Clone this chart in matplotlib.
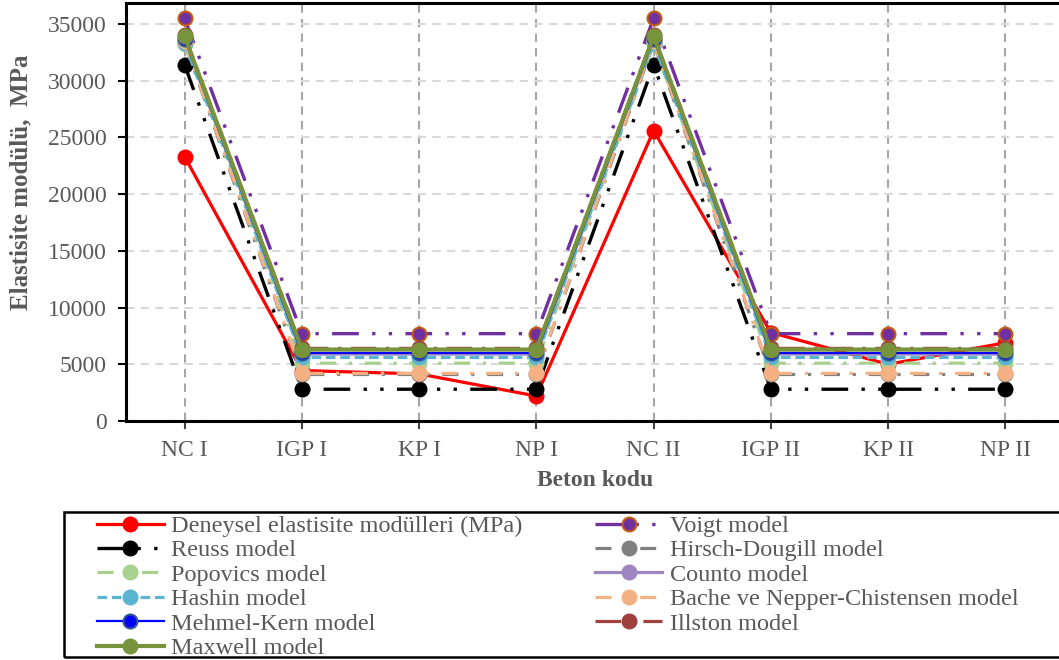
import matplotlib.pyplot as plt
from matplotlib.patches import Rectangle

plt.rcParams['font.family'] = ['Liberation Serif', 'DejaVu Serif']

categories = ['NC I', 'IGP I', 'KP I', 'NP I', 'NC II', 'IGP II', 'KP II', 'NP II']

deneysel = [23300, 4450, 4150, 2200, 25600, 7800, 5000, 6900]
voigt = [35500, 7700, 7700, 7700, 35500, 7700, 7700, 7700]
reuss = [31400, 2800, 2800, 2800, 31400, 2800, 2800, 2800]
hirsch = [33300, 4100, 4100, 4100, 33300, 4100, 4100, 4100]
popovics = [33200, 5100, 5100, 5100, 33200, 5100, 5100, 5100]
counto = [33600, 5900, 5900, 5900, 33600, 5900, 5900, 5900]
hashin = [33300, 5600, 5600, 5600, 33300, 5600, 5600, 5600]
bache = [33500, 4200, 4200, 4200, 33500, 4200, 4200, 4200]
mehmel = [33700, 6000, 6000, 6000, 33700, 6000, 6000, 6000]
illston = [34000, 6400, 6400, 6400, 34000, 6400, 6400, 6400]
maxwell = [33900, 6300, 6300, 6300, 33900, 6300, 6300, 6300]

# label, data, color, marker edge, linewidth, dashes (None = solid)
series = [
    ('Deneysel elastisite modülleri (MPa)', deneysel, '#FF0000', '#FF0000', 2.3, None),
    ('Voigt model', voigt, '#7030A0', '#C55A11', 2.4, (8, 4, 1, 4, 1, 4)),
    ('Reuss model', reuss, '#000000', '#000000', 2.4, (8, 4, 1, 4, 1, 4)),
    ('Hirsch-Dougill model', hirsch, '#808080', '#808080', 2.3, (5, 4, 1, 4)),
    ('Popovics model', popovics, '#A9D18E', '#A9D18E', 2.3, (5, 4, 1, 4)),
    ('Counto model', counto, '#9E86C0', '#9E86C0', 2.3, None),
    ('Hashin model', hashin, '#5BB5D0', '#5BB5D0', 2.3, (3, 1.5)),
    ('Bache ve Nepper-Chistensen model', bache, '#F4B183', '#F4B183', 2.3, (5, 4, 1, 4)),
    ('Mehmel-Kern model', mehmel, '#0000FF', '#2F5597', 1.6, None),
    ('Illston model', illston, '#A0403F', '#A0403F', 2.3, (8, 3, 1, 3)),
    ('Maxwell model', maxwell, '#77933C', '#77933C', 3.0, None),
]

fig = plt.figure(figsize=(10.59, 6.6), dpi=100)
W, H = 1059, 660
ax = fig.add_axes([126 / W, (H - 421) / H, (1064 - 126) / W, (421 - 3) / H])

x = list(range(len(categories)))
handles = {}
for i, (lab, vals, col, edge, lw, dash) in enumerate(series):
    kw = dict(color=col, lw=lw, marker='o', markersize=10, markerfacecolor=col,
              markeredgecolor=edge, markeredgewidth=1.5, label=lab, zorder=3 + i)
    if dash is not None:
        kw['dashes'] = dash
    ln, = ax.plot(x, vals, **kw)
    handles[lab] = ln

ax.set_xlim(-0.5, 7.5)
ax.set_ylim(0, 36850)
ax.set_yticks(range(0, 35001, 5000))
ax.set_xticks(x)
ax.set_xticklabels(categories)

ax.grid(axis='y', color='#D9D9D9', linestyle=(0, (4, 3)), lw=1.5, zorder=0)
ax.grid(axis='x', color='#A6A6A6', linestyle=(0, (4, 3)), lw=1.5, zorder=0)
ax.set_axisbelow(True)

for s in ['left', 'bottom', 'top']:
    ax.spines[s].set_linewidth(2.2)
    ax.spines[s].set_color('black')
ax.spines['right'].set_visible(False)

ax.tick_params(axis='y', direction='out', length=6, width=1.5, labelsize=17,
               labelcolor='#595959', pad=8)
ax.tick_params(axis='x', direction='out', length=6, width=1.5, labelsize=17,
               labelcolor='#595959', color='#404040', pad=8)

ax.set_xlabel('Beton kodu', fontsize=17, fontweight='bold', color='#595959', labelpad=6)
ax.set_ylabel('Elastisite modülü,  MPa', fontsize=18, fontweight='bold', color='#595959')
ax.yaxis.set_label_coords(-0.1, 0.57)

order = ['Deneysel elastisite modülleri (MPa)', 'Reuss model', 'Popovics model',
         'Hashin model', 'Mehmel-Kern model', 'Maxwell model',
         'Voigt model', 'Hirsch-Dougill model', 'Counto model',
         'Bache ve Nepper-Chistensen model', 'Illston model']
leg = fig.legend([handles[k] for k in order], order, loc='upper left',
                 bbox_to_anchor=(80 / W, 1 - 498 / H), ncol=2, frameon=False,
                 fontsize=17.5, handlelength=2.75, handletextpad=0.3,
                 columnspacing=3.0, labelspacing=0.1, borderpad=0.2)
for t in leg.get_texts():
    t.set_color('#595959')

fig.patches.append(Rectangle((64 / W, 1 - 657 / H), 1.0, (657 - 512) / H,
                             transform=fig.transFigure, fill=False,
                             edgecolor='black', lw=1.8))

fig.savefig('out.png', dpi=100)
